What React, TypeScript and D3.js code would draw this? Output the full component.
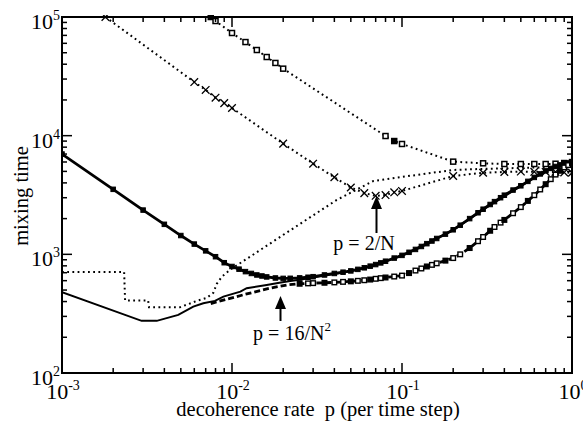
import React from "react";
import { scaleLog, line, curveLinear } from "d3";

// dotted curve with open squares (top)
const squaresDotted: [number, number][] = [
  [0.0075, 100000], [0.008, 92500], [0.01, 73300], [0.012, 61500], [0.014, 52700],
  [0.016, 46000], [0.018, 41000], [0.02, 36700], [0.08, 9930], [0.09, 9010],
  [0.1, 8510], [0.2, 6040], [0.3, 5850], [0.4, 5770], [0.5, 5770], [0.6, 5770],
  [0.7, 5770], [0.8, 5800], [0.9, 5880], [1.0, 5990],
];

// dotted curve with crosses
const crossDotted: [number, number][] = [
  [0.0018, 100000], [0.006, 28300], [0.007, 24300], [0.008, 20900], [0.009, 18800],
  [0.01, 17100], [0.02, 8570], [0.03, 5810], [0.04, 4460], [0.05, 3660],
  [0.06, 3280], [0.07, 3110], [0.08, 3160], [0.09, 3330], [0.1, 3420],
  [0.2, 4570], [0.3, 4870], [0.4, 4940], [0.5, 4980], [0.6, 4960],
  [0.7, 4950], [0.8, 4950], [0.9, 4900], [1.0, 4870],
];

// plain dotted curve (rising from bottom)
const plainDotted: [number, number][] = [
  [0.001, 711], [0.00232, 711], [0.00235, 409], [0.00321, 409], [0.00325, 358],
  [0.00494, 358], [0.0062, 405], [0.0071, 429], [0.00776, 473], [0.00813, 563],
  [0.0087, 646], [0.00973, 740], [0.02, 1457], [0.0413, 2873], [0.0678, 4150],
  [0.1, 4490], [0.2, 5140], [0.3, 5250], [0.5, 5350], [1.0, 5500],
];

// solid curve with filled squares (upper band)
const solidSquares: [number, number][] = [
  [0.001, 7000], [0.002, 3530], [0.003, 2360], [0.004, 1790], [0.005, 1440],
  [0.006, 1220], [0.007, 1070], [0.008, 955], [0.009, 850], [0.01, 790],
  [0.011, 750], [0.012, 715], [0.013, 690], [0.014, 670], [0.015, 657], [0.016, 645],
  [0.018, 632], [0.02, 627], [0.022, 628], [0.025, 633], [0.028, 641], [0.03, 648],
  [0.035, 670], [0.04, 690], [0.045, 707], [0.05, 725], [0.055, 747], [0.06, 770],
  [0.065, 795], [0.07, 820], [0.075, 847], [0.08, 875], [0.09, 930], [0.1, 980],
  [0.11, 1040], [0.12, 1100], [0.13, 1165], [0.14, 1230], [0.15, 1295],
  [0.16, 1360], [0.18, 1480], [0.2, 1610], [0.22, 1760], [0.25, 2000],
  [0.28, 2240], [0.3, 2400], [0.33, 2630], [0.35, 2780], [0.38, 3000],
  [0.4, 3150], [0.45, 3480], [0.5, 3780], [0.55, 4120], [0.6, 4450],
  [0.65, 4760], [0.7, 5050], [0.75, 5300], [0.8, 5500], [0.85, 5660],
  [0.9, 5800], [0.95, 5890], [1.0, 5950],
];

// solid curve without markers (lower left, joins upper band)
const solidLow: [number, number][] = [
  [0.001, 480], [0.00294, 275], [0.00361, 275], [0.00483, 309], [0.00592, 363],
  [0.00678, 387], [0.00794, 405], [0.0089, 440], [0.0112, 485], [0.0122, 518],
  [0.016, 552], [0.019, 575], [0.022, 595], [0.025, 610], [0.03, 638],
  [0.04, 684], [0.05, 720], [0.07, 815], [0.1, 975], [0.2, 1600],
  [0.3, 2380], [0.5, 3760], [0.7, 5030], [1.0, 5950],
];

// dashed curve with open squares (lower band)
const dashedSquares: [number, number][] = [
  [0.0075, 385], [0.009, 413], [0.012, 461], [0.0167, 518], [0.021, 552],
  [0.025, 565], [0.028, 569], [0.03, 572], [0.035, 576], [0.04, 580],
  [0.045, 586], [0.05, 592], [0.055, 598], [0.06, 605], [0.065, 613],
  [0.07, 622], [0.075, 630], [0.08, 638], [0.09, 650], [0.1, 662],
  [0.11, 695], [0.12, 730], [0.13, 760], [0.14, 790], [0.15, 815],
  [0.16, 840], [0.18, 885], [0.2, 930], [0.22, 1000], [0.25, 1130],
  [0.28, 1290], [0.3, 1400], [0.33, 1580], [0.35, 1700], [0.38, 1850],
  [0.4, 1950], [0.45, 2220], [0.5, 2500], [0.55, 2820], [0.6, 3150],
  [0.65, 3520], [0.7, 3900], [0.75, 4300], [0.8, 4700], [0.85, 5060],
  [0.9, 5400], [0.95, 5650], [1.0, 5850],
];

const xMajor = [0.001, 0.01, 0.1, 1];
const xExp = ["-3", "-2", "-1", "0"];
const yMajor = [100, 1000, 10000, 100000];
const yExp = ["2", "3", "4", "5"];

const W = 583;
const H = 426;
const left = 62, right = 572, top = 17, bottom = 373;

const x = scaleLog().domain([0.001, 1]).range([left, right]);
const y = scaleLog().domain([100, 100000]).range([bottom, top]);

const path = line<[number, number]>()
  .x(d => x(d[0]))
  .y(d => y(d[1]))
  .curve(curveLinear);

const minors = (majors: number[]) => {
  const out: number[] = [];
  majors.slice(0, -1).forEach(m => {
    for (let k = 2; k <= 9; k++) out.push(m * k);
  });
  return out;
};

const font = "'Liberation Serif', 'Times New Roman', serif";

const App = () => {
  const xMin = minors(xMajor);
  const yMin = minors(yMajor);
  const sq = 4.5;

  return (
    <svg width={W} height={H} style={{ position: "absolute", left: 0, top: 0, background: "#fff" }}
      fontFamily={font}>
      <defs>
        <clipPath id="plot">
          <rect x={left} y={top - 2} width={right - left} height={bottom - top + 2} />
        </clipPath>
      </defs>

      <g clipPath="url(#plot)" fill="none" stroke="#000">
        <path d={path(plainDotted) || ""} strokeWidth={2} strokeDasharray="1.8 3.4" />
        <path d={path(squaresDotted) || ""} strokeWidth={2} strokeDasharray="1.8 3.4" />
        <path d={path(crossDotted) || ""} strokeWidth={2} strokeDasharray="1.8 3.4" />
        <path d={path(solidLow) || ""} strokeWidth={2} />
        <path d={path(dashedSquares) || ""} strokeWidth={2.8} strokeDasharray="6 3" />
        <path d={path(solidSquares) || ""} strokeWidth={2.8} />

        {squaresDotted.map((d, i) => (
          <rect key={"a" + i} x={x(d[0]) - 2.5} y={y(d[1]) - 2.5} width={5} height={5}
            fill={i === 0 || i === 9 ? "#000" : "#fff"} strokeWidth={1.5} />
        ))}
        {crossDotted.map((d, i) => {
          const cx = x(d[0]), cy = y(d[1]), r = 3.8;
          return (
            <path key={"b" + i} d={`M${cx - r},${cy - r}L${cx + r},${cy + r}M${cx - r},${cy + r}L${cx + r},${cy - r}`}
              strokeWidth={1.3} />
          );
        })}
        {solidSquares.map((d, i) => (
          <rect key={"c" + i} x={x(d[0]) - sq / 2} y={y(d[1]) - sq / 2} width={sq} height={sq}
            fill="#000" strokeWidth={1} />
        ))}
        {dashedSquares.slice(5).map((d, i) => (
          <rect key={"d" + i} x={x(d[0]) - 2.3} y={y(d[1]) - 2.3} width={4.6} height={4.6}
            fill={i % 3 === 0 ? "#000" : "#fff"} strokeWidth={1.4} />
        ))}
      </g>

      {/* ticks */}
      <g stroke="#000" strokeWidth={1.5}>
        {xMajor.map(v => (
          <g key={"xm" + v}>
            <line x1={x(v)} x2={x(v)} y1={bottom} y2={bottom - 10} />
            <line x1={x(v)} x2={x(v)} y1={top} y2={top + 10} />
          </g>
        ))}
        {xMin.map(v => (
          <g key={"xn" + v}>
            <line x1={x(v)} x2={x(v)} y1={bottom} y2={bottom - 5} />
            <line x1={x(v)} x2={x(v)} y1={top} y2={top + 5} />
          </g>
        ))}
        {yMajor.map(v => (
          <g key={"ym" + v}>
            <line x1={left} x2={left + 10} y1={y(v)} y2={y(v)} />
            <line x1={right} x2={right - 10} y1={y(v)} y2={y(v)} />
          </g>
        ))}
        {yMin.map(v => (
          <g key={"yn" + v}>
            <line x1={left} x2={left + 5} y1={y(v)} y2={y(v)} />
            <line x1={right} x2={right - 5} y1={y(v)} y2={y(v)} />
          </g>
        ))}
      </g>
      <rect x={left} y={top} width={right - left} height={bottom - top} fill="none" stroke="#000" strokeWidth={2} />

      {/* tick labels */}
      <g fontSize={22} fill="#000">
        {xMajor.map((v, i) => (
          <text key={"xl" + v} x={x(v) + 1} y={bottom + 26} textAnchor="middle">
            10<tspan fontSize={14} dy={-9}>{xExp[i]}</tspan>
          </text>
        ))}
        {yMajor.map((v, i) => (
          <text key={"yl" + v} x={left - 2} y={y(v) + 12} textAnchor="end">
            10<tspan fontSize={14} dy={-9}>{yExp[i]}</tspan>
          </text>
        ))}
      </g>

      {/* axis titles */}
      <text x={318} y={416} textAnchor="middle" fontSize={20.5}>
        {"decoherence rate\u00a0 p (per time step)"}
      </text>
      <text transform={`translate(28,196) rotate(-90)`} textAnchor="middle" fontSize={20.5}>
        mixing time
      </text>

      {/* annotations */}
      <g fill="#000" stroke="#000">
        <line x1={376.5} x2={376.5} y1={233} y2={205} strokeWidth={2} />
        <path d="M371,209 L376.5,196 L382,209 Z" stroke="none" />
        <line x1={280.5} x2={280.5} y1={321} y2={305} strokeWidth={2} />
        <path d="M275,309 L280.5,296 L286,309 Z" stroke="none" />
      </g>
      <text x={364} y={250} textAnchor="middle" fontSize={20}>p = 2/N</text>
      <text x={292} y={340} textAnchor="middle" fontSize={20}>
        p = 16/N<tspan fontSize={13} dy={-9}>2</tspan>
      </text>
    </svg>
  );
};

export default App;
